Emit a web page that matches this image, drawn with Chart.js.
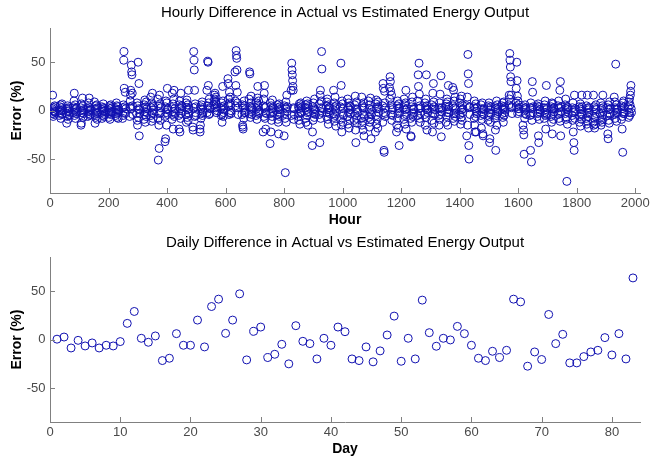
<!DOCTYPE html>
<html><head><meta charset="utf-8">
<script src="https://cdn.jsdelivr.net/npm/chart.js@4/dist/chart.umd.min.js"></script>
<style>
html,body{margin:0;padding:0;background:#fff;}
#wrap{position:relative;width:650px;height:459px;background:#fff;}
canvas{position:absolute;left:0;}
</style></head><body>
<div id="wrap">
<canvas id="hourly" style="top:0px" width="650" height="230"></canvas>
<canvas id="daily" style="top:230px" width="650" height="229"></canvas>
</div>
<script>
// ---- data ----
const hourTicks = [0, 200, 400, 600, 800, 1000, 1200, 1400, 1600, 1800, 2000];
const dayTicks = [0, 10, 20, 30, 40, 50, 60, 70, 80];
const errTicks = [-50, 0, 50];
// hours of each day that carry a measurement
const hourOfDay = [8, 9, 10, 11, 12, 13, 14, 15, 16, 17, 18, 19];
// hourly error (%) — one row per day, one value per entry of hourOfDay
const hourlyError = [
  [2, 16, -3, -6, 0, 3, -4, -1, 5, -2, -1, 4],
  [-5, 1, 4, -2, 6, -8, 0, 3, -4, 7, -3, 1],
  [-3, -13, 2, -6, 5, -1, -9, 3, 0, -4, 2, -5],
  [4, -2, 10, 18, -5, 1, 6, -8, 2, -3, -1, 3],
  [-4, 3, -15, -13, 7, -2, 0, 13, 5, -7, 1, -3],
  [2, -6, 4, -3, 8, -1, 13, -5, 0, 3, -4, 1],
  [9, -4, -13, 2, -7, 5, 0, -3, 6, -9, 3, -2],
  [-2, 4, -8, 1, -5, 3, 7, -1, -6, 2, 0, -4],
  [3, -7, 0, 5, -3, -9, 2, -4, 6, -1, -2, 3],
  [-5, 2, -3, 8, 5, -7, 1, -2, 4, -8, 1, -1],
  [-8, 3, -5, 6, 52, 61, 23, -2, 4, 19, -3, 2],
  [-6, 4, 10, 16, 21, 2, 47, 40, 37, 18, 5, -4],
  [-3, 8, -10, -15, 5, 50, -7, 2, 28, -26, 1, -3],
  [3, -9, 6, -4, 11, -1, -12, 4, -6, 9, -2, 2],
  [14, -5, 3, -11, 8, -2, 18, 5, -8, 1, 4, -3],
  [12, -8, -51, 5, -15, -39, 16, -3, 7, -10, -2, 3],
  [-6, -32, 4, -29, 10, -2, -15, 8, 1, 23, -4, 2],
  [3, -9, 18, -4, 7, -19, -1, 12, 21, -6, 2, -3],
  [-5, -19, 6, 10, -22, 2, -8, 18, -3, 5, 0, 4],
  [-4, 8, -12, 3, 11, -7, 1, 6, -10, 21, -3, 2],
  [-17, -20, 3, 61, 52, 42, 21, -6, 7, -2, 4, -5],
  [-19, -22, -15, 4, -8, 2, 6, -3, 9, -5, 1, -2],
  [21, -2, 5, 51, 50, 26, 8, -4, 12, 3, -3, 2],
  [6, 10, 16, 12, 18, 3, 9, 14, -2, 7, 4, 0],
  [2, -5, 8, -3, -12, 4, 25, 10, -6, 1, -2, 5],
  [33, 28, 12, 5, -4, 19, 8, -2, 14, 6, 0, -3],
  [40, 10, 5, 26, 62, 57, 54, 42, 19, 8, 3, -4],
  [-4, 6, -15, -17, -19, 3, -8, 10, -2, 5, 1, -2],
  [12, -3, 40, 38, 4, -7, 8, 15, -1, 3, -4, 2],
  [-5, 8, 2, -9, 6, 13, 25, 4, -3, 10, 0, -2],
  [-22, 5, 12, -6, 18, 26, 3, -8, -2, -19, 4, -3],
  [-34, 8, -3, -22, 5, -10, 2, -6, 11, -1, -2, 3],
  [-4, 6, -9, 3, -12, -24, 1, 7, -6, 4, 1, -3],
  [-26, 5, -3, -8, -64, 3, 9, -12, 2, 16, -1, 4],
  [21, -5, 49, 42, 37, 31, 25, 21, 3, -9, 2, -4],
  [-6, 4, -10, 2, 7, -3, -14, 5, -1, 8, -2, 3],
  [3, -8, 6, -12, 1, 10, -5, -2, 7, -15, 4, -1],
  [-36, -22, 4, -10, 8, -3, 2, -7, 12, -1, 1, -4],
  [-4, 7, -33, 16, 21, -8, 3, 10, 61, 43, -2, 2],
  [5, -6, 9, -2, 12, -9, 1, -14, 6, 3, 3, -3],
  [-3, 21, -7, 8, -11, 4, 14, -5, 2, -16, -1, 5],
  [4, -9, 49, 26, -15, -22, 10, -3, 7, -12, 2, -5],
  [-6, 12, -14, 3, -2, 8, -18, 5, -9, 1, -3, 4],
  [-10, 6, -4, 15, -20, -33, 2, -8, 9, -13, 1, -2],
  [-8, 14, -15, 5, -11, 3, -20, 8, -4, -26, 3, -6],
  [10, -7, 2, -17, 6, -12, -3, 13, -9, -29, -4, 1],
  [-22, 7, -5, 11, -14, 2, -9, 4, -18, 9, 2, -2],
  [5, -12, 28, 23, -2, -41, -43, 20, 8, -6, -3, 3],
  [24, 12, 35, 30, 20, 6, -4, 16, -10, 3, 1, -5],
  [-22, -15, 5, -8, 10, -3, -18, 2, 7, -36, 3, -2],
  [3, -9, 12, -5, 6, -14, 1, 8, 21, -19, -4, 2],
  [-8, -26, -27, 4, -12, 9, -3, 14, -6, 2, 1, -2],
  [10, -5, 37, 25, 2, 49, 17, -8, 5, -12, -3, 3],
  [-4, 8, -15, 3, 12, -7, 37, 5, -20, 1, 2, -2],
  [6, -10, 2, -22, 18, -3, 28, 9, -13, 4, -4, 1],
  [-5, 3, -15, 8, -9, 17, 2, -4, 36, -27, 3, -1],
  [4, -12, 7, -6, 12, -2, 9, -15, 1, 26, -2, 4],
  [24, 5, -8, 21, -3, 10, -11, 3, 14, -6, 1, -3],
  [8, -4, 12, -14, 3, -7, 15, 1, -10, 6, -2, 2],
  [-26, 5, 14, -15, 58, 38, 28, -36, -50, 3, 4, -4],
  [4, -8, 10, -15, -22, 2, -6, 7, -22, -3, -1, 3],
  [-5, 6, -18, 2, -9, 8, -3, -24, -26, 1, 2, -4],
  [3, -10, 5, -2, 8, -6, -33, -29, 1, -12, -3, 4],
  [-8, 4, -20, -41, 2, -5, 10, -15, 6, -3, 1, -1],
  [5, -3, 8, -7, 2, -12, 4, 9, -5, 1, -2, 3],
  [6, 16, 12, 59, 52, 45, 35, 30, 16, 3, 4, -3],
  [8, 23, 4, 50, 31, 15, -3, 10, 2, 6, -1, 2],
  [-15, 4, -20, -25, -45, 2, -8, 6, -3, 1, 3, -4],
  [-5, 3, -41, 8, -4, -53, 2, -10, 30, 19, -2, 4],
  [5, -6, 2, -3, 7, -26, -33, 4, -9, 1, 1, -2],
  [3, -8, 6, -2, 10, -5, -19, 1, 26, -4, -3, 3],
  [-6, 4, -12, 8, -24, 2, -3, 7, -9, 3, 2, -1],
  [5, -4, 10, -8, 3, -2, 21, -11, 30, -26, -1, 4],
  [6, -3, 12, -9, 2, -7, -73, 4, -14, 1, 3, -2],
  [-5, 3, -10, 8, -22, -2, -33, -41, 16, -8, -1, 2],
  [4, -12, 2, -6, 7, -16, -3, 1, -9, 16, 4, -4],
  [-8, 5, -14, -2, 16, -11, 3, -6, -18, 1, -2, 3],
  [-12, 16, -15, 4, -8, -18, 2, -6, -14, 6, 1, -3],
  [-3, -10, 8, -15, 2, -6, -12, 5, -9, 16, 3, -1],
  [-5, 3, -24, -29, 6, -10, 1, -13, 9, -3, -4, 2],
  [14, -4, 9, -8, 3, 48, -2, 6, -11, 2, 1, -2],
  [5, -9, 2, -19, -6, -43, 8, -3, 10, -1, -3, 4],
  [3, -7, 9, -2, 12, -5, 6, 16, 20, 26, 2, -2]
];
const days = [1,2,3,4,5,6,7,8,9,10,11,12,13,14,15,16,17,18,19,20,21,22,23,24,25,26,27,28,29,30,
  31,32,33,34,35,36,37,38,39,40,41,42,43,44,45,46,47,48,49,50,51,52,53,54,55,56,57,58,59,60,
  61,62,63,64,65,66,67,68,69,70,71,72,73,74,75,76,77,78,79,80,81,82,83];
const dailyError = [0.5, 2.7, -8.6, -0.7, -6.5, -3.4, -8.6, -5.8, -6.5, -2,
  16.8, 29.1, 1.4, -2.7, 3.8, -21.6, -19.2, 6.2, -5.8, -5.8,
  20.2, -7.5, 34.2, 41.8, 6.5, 20.2, 47.3, -20.9, 8.6, 13,
  -18.5, -15.1, -4.8, -25, 14.4, -1.7, -4.1, -19.9, 1.4, -5.8,
  13, 8.2, -19.9, -21.6, -7.5, -22.9, -11.6, 4.8, 24.3, -22.3,
  1.4, -19.9, 40.8, 7.2, -6.8, 1.4, -0.3, 13.7, 6.2, -5.8,
  -19.2, -21.6, -12, -18.5, -11, 41.8, 39, -27.4, -12.7, -20.5,
  26, -4.1, 5.5, -24, -24, -17.5, -12.7, -11, 2.1, -15.8,
  6.2, -19.9, 63.7];

// ---- drawing ----
const FONT = "'Liberation Sans', Arial, Helvetica, sans-serif";
const AXIS = '#808080';
const MARK = '#1010b0';

const hourlyPoints = [];
hourlyError.forEach((row, d) => row.forEach((v, i) => hourlyPoints.push({x: d * 24 + hourOfDay[i], y: v})));
const dailyPoints = days.map((d, i) => ({x: d, y: dailyError[i]}));

// MATLAB-style tick marks pointing into the plot box
const inwardTicks = {
  id: 'inwardTicks',
  afterDraw(chart) {
    const {ctx, chartArea, scales} = chart;
    const x = scales.x, y = scales.y;
    ctx.save();
    ctx.strokeStyle = AXIS; ctx.lineWidth = 1;
    ctx.beginPath();
    x.ticks.forEach(t => {
      const px = Math.round(x.getPixelForValue(t.value)) + 0.5;
      ctx.moveTo(px, chartArea.bottom); ctx.lineTo(px, chartArea.bottom - 5);
    });
    y.ticks.forEach(t => {
      const py = Math.round(y.getPixelForValue(t.value)) + 0.5;
      ctx.moveTo(chartArea.left, py); ctx.lineTo(chartArea.left + 5, py);
    });
    ctx.stroke();
    ctx.restore();
  }
};

function axisCommon(ticksList, pad) {
  return {
    grid: {display: true, drawOnChartArea: false, drawTicks: false, color: AXIS, lineWidth: 1},
    border: {display: true, color: AXIS, width: 1},
    ticks: {padding: pad, color: '#4a4a4a', font: {family: FONT, size: 13}, maxRotation: 0, autoSkip: false,
      callback: v => String(v)},
    afterBuildTicks: s => { s.ticks = ticksList.map(v => ({value: v})); }
  };
}

function makeChart(id, cfg) {
  const xAxis = Object.assign(axisCommon(cfg.xTicks, 3), {
    type: 'linear', min: 0, max: cfg.xMax,
    afterFit: s => { s.height = 37; s.paddingLeft = 0; s.paddingRight = 0; },
    title: {display: true, text: cfg.xTitle, color: '#000', font: {family: FONT, size: 14, weight: 'bold'},
      padding: {top: 0, bottom: 1.6}}
  });
  const yAxis = Object.assign(axisCommon(errTicks, 4.5), {
    type: 'linear', min: -85, max: 85,
    afterFit: s => { s.width = 50; s.paddingTop = 0; s.paddingBottom = 0; },
    title: {display: true, text: 'Error (%)', color: '#000', font: {family: FONT, size: 14, weight: 'bold'},
      padding: {top: 8.3, bottom: 0}}
  });
  return new Chart(document.getElementById(id), {
    type: 'scatter',
    data: {datasets: [{
      data: cfg.points,
      pointStyle: 'circle', pointRadius: 4, pointHoverRadius: 4,
      borderWidth: 1, pointBorderWidth: 1,
      borderColor: MARK, pointBorderColor: MARK,
      backgroundColor: 'rgba(0,0,0,0)', pointBackgroundColor: 'rgba(0,0,0,0)',
      showLine: false
    }]},
    options: {
      responsive: false, animation: false, events: [],
      layout: {padding: {left: 0, right: 10, top: 0, bottom: 0}},
      plugins: {
        legend: {display: false}, tooltip: {enabled: false},
        title: {display: true, fullSize: false, text: cfg.title, color: '#000',
          font: {family: FONT, size: 15, weight: 'normal'}, padding: cfg.titlePad}
      },
      scales: {x: xAxis, y: yAxis}
    },
    plugins: [inwardTicks]
  });
}

makeChart('hourly', {
  title: 'Hourly Difference in Actual vs Estimated Energy Output',
  titlePad: {top: 4, bottom: 6.3},
  xTitle: 'Hour', xMax: 2016, xTicks: hourTicks, points: hourlyPoints
});
makeChart('daily', {
  title: 'Daily Difference in Actual vs Estimated Energy Output',
  titlePad: {top: 3.8, bottom: 5.5},
  xTitle: 'Day', xMax: 84, xTicks: dayTicks, points: dailyPoints
});
</script>
</body></html>
